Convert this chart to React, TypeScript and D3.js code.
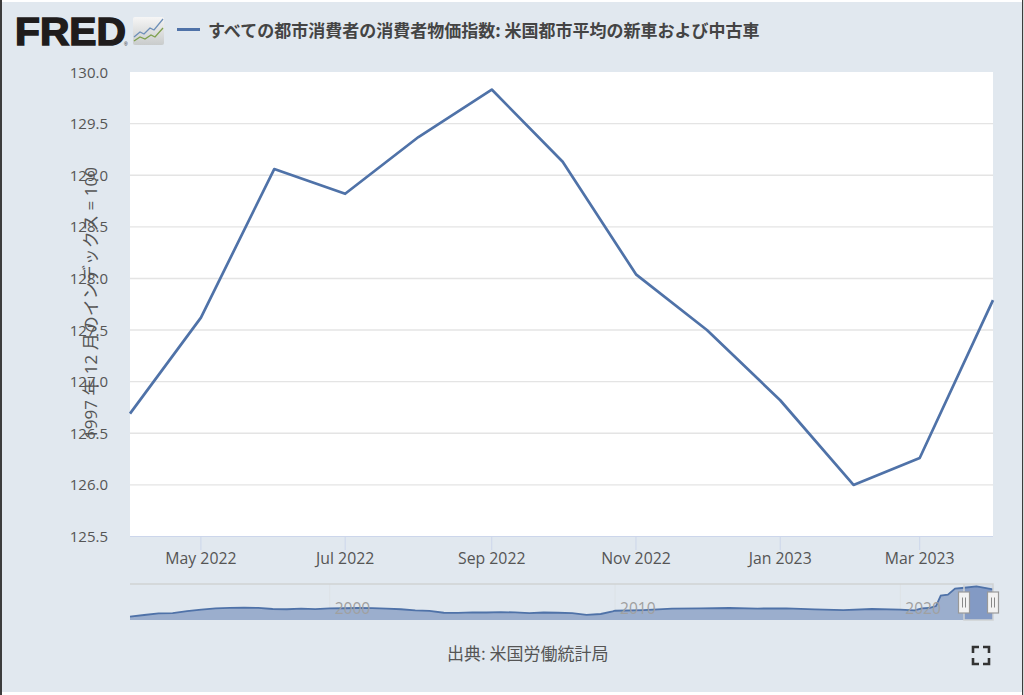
import * as d3 from "d3";

// main series, monthly
const months = ["2022-04", "2022-05", "2022-06", "2022-07", "2022-08", "2022-09", "2022-10", "2022-11", "2022-12", "2023-01", "2023-02", "2023-03", "2023-04"];
const values = [126.69, 127.62, 129.06, 128.82, 129.37, 129.83, 129.13, 128.04, 127.5, 126.82, 126.0, 126.26, 127.79];

const yTicks = [125.5, 126, 126.5, 127, 127.5, 128, 128.5, 129, 129.5, 130];
const xTicks = ["2022-05", "2022-07", "2022-09", "2022-11", "2023-01", "2023-03"];

// navigator series
const navYears = [1993, 1993.5, 1994, 1994.5, 1995, 1995.5, 1996, 1996.5, 1997, 1997.5, 1998, 1998.5, 1999, 1999.5, 2000, 2000.5, 2001, 2001.5, 2002, 2002.5, 2003, 2003.5, 2004, 2004.5, 2005, 2005.5, 2006, 2006.5, 2007, 2007.5, 2008, 2008.5, 2009, 2009.5, 2009.9, 2010, 2011, 2012, 2013, 2014, 2015, 2016, 2017, 2018, 2019, 2020, 2020.5, 2020.75, 2021, 2021.25, 2021.4, 2021.7, 2021.95, 2022.2, 2022.7, 2023.25];
const navValues = [91, 93.2, 95.4, 95.6, 98.3, 100.2, 101.8, 102.3, 102.6, 102.3, 100.9, 100.6, 101.3, 100.8, 101.8, 101.9, 102.2, 102.1, 101.3, 100.6, 99.2, 98.4, 96.1, 95.9, 96.6, 96.4, 97, 96.5, 95.7, 96.4, 96.1, 95.6, 93.5, 94.5, 97.9, 98.7, 99.6, 101.3, 101.8, 102.2, 101.5, 101.8, 100.5, 99.6, 100.9, 100, 99.2, 101.8, 102.2, 104.7, 118, 119.3, 127, 127.9, 130, 126.2];
const navTicks = [2000, 2010, 2020];

const title = "すべての都市消費者の消費者物価指数: 米国都市平均の新車および中古車";
const yTitle = "1997 年 12 月のインデックス = 100";
const source = "出典: 米国労働統計局";

const width = 1024;
const height = 695;
const plot = { left: 130, right: 993, top: 72, bottom: 536.5 };
const nav = { top: 584, bottom: 620, from: 964 };

const bg = "#e1e8ef";
const lineColor = "#4f72a8";
const textColor = "#555";
const latin = "'Open Sans', 'Noto Sans CJK JP', sans-serif";
const cjk = "'Noto Sans CJK JP', sans-serif";

const parseMonth = d3.timeParse("%Y-%m");
const toDate = (m: string) => parseMonth(m) as Date;
const yearToDate = (y: number) => {
  const whole = Math.floor(y);
  return new Date(whole, Math.round((y - whole) * 12), 1);
};

const x = d3.scaleTime().domain([toDate(months[0]), toDate(months[months.length - 1])]).range([plot.left, plot.right]);
const y = d3.scaleLinear().domain([125.5, 130]).range([plot.bottom, plot.top]);
const navX = d3.scaleTime().domain([new Date(1993, 0, 1), new Date(2023, 3, 1)]).range([plot.left, plot.right]);
const navY = d3.scaleLinear().domain([86.8, 129.8]).range([nav.bottom, 586.5]);

const line = d3.line<number>().x((_, i) => x(toDate(months[i]))).y((d) => y(d));
const navLine = d3.line<number>().x((_, i) => navX(yearToDate(navYears[i]))).y((d) => navY(d));
const navArea = d3.area<number>().x((_, i) => navX(yearToDate(navYears[i]))).y0(nav.bottom).y1((d) => navY(d));
const fmt = d3.timeFormat("%b %Y");

const Handle = ({ cx }: { cx: number }) => (
  <g transform={`translate(${cx},591.5)`}>
    <rect x={-5.5} y={0.5} width={11} height={21} fill="#f2f2f2" stroke="#999" strokeWidth={1.2} />
    <line x1={-1.5} x2={-1.5} y1={6} y2={16} stroke="#888" />
    <line x1={1.5} x2={1.5} y1={6} y2={16} stroke="#888" />
  </g>
);

const App = () => {
  return (
    <svg width={width} height={height} style={{ position: "absolute", left: 0, top: 0, display: "block" }}>
      <defs>
        <linearGradient id="logoBg" x1="0" x2="0" y1="0" y2="1">
          <stop offset="0%" stopColor="#f6f6f6" />
          <stop offset="100%" stopColor="#c9cccc" />
        </linearGradient>
        <clipPath id="navSel">
          <rect x={nav.from} y={nav.top} width={plot.right - nav.from} height={nav.bottom - nav.top} />
        </clipPath>
      </defs>

      {/* page frame */}
      <rect width={width} height={height} fill="#fff" />
      <rect x={2} y={2} width={1020} height={690} fill={bg} />
      <rect x={0} y={0} width={2} height={height} fill="#3c3c3c" />
      <rect x={1022} y={0} width={1.2} height={height} fill="#3c3c3c" />

      {/* logo */}
      <text x={15} y={45} fontFamily="'Liberation Sans', sans-serif" fontWeight={700} fontSize={39} textLength={111} lengthAdjust="spacingAndGlyphs" fill="#1f1c1c" stroke="#1f1c1c" strokeWidth={1.5}>FRED</text>
      <text x={124} y={46} fontFamily="'Liberation Sans', sans-serif" fontSize={5} fill="#1f1c1c">®</text>
      <rect x={133} y={17} width={31} height={28} rx={2} fill="url(#logoBg)" />
      <path d="M134 37L140 32L144 34L150 28L154 30L163 19" fill="none" stroke="#6d8fb8" strokeWidth={1.3} />
      <path d="M134 41L140 37L145 39L151 35L155 37L163 28" fill="none" stroke="#7ea04d" strokeWidth={1.3} />

      {/* legend */}
      <line x1={177} x2={200} y1={29.5} y2={29.5} stroke={lineColor} strokeWidth={3} />
      <text x={208} y={37} fontFamily={cjk} fontWeight={700} fontSize={17} fill="#444">{title}</text>

      {/* plot */}
      <rect x={plot.left} y={plot.top} width={plot.right - plot.left} height={plot.bottom - plot.top} fill="#fff" />
      {yTicks.map((t) => (
        <g key={t}>
          {t > 125.5 && t < 130 && <line x1={plot.left} x2={plot.right} y1={y(t)} y2={y(t)} stroke="#e4e4e4" strokeWidth={1.4} />}
          <text x={108} y={y(t) + 5.5} textAnchor="end" fontFamily={latin} fontSize={15} fill={textColor}>{t.toFixed(1)}</text>
        </g>
      ))}
      <line x1={plot.left} x2={plot.right} y1={plot.bottom} y2={plot.bottom} stroke="#ccd6eb" />
      {xTicks.map((t) => (
        <g key={t} transform={`translate(${x(toDate(t))},0)`}>
          <line y1={plot.bottom} y2={550} stroke="#ccd6eb" />
          <text y={564} textAnchor="middle" fontFamily={latin} fontSize={15.8} fill={textColor}>{fmt(toDate(t))}</text>
        </g>
      ))}
      <path d={line(values) ?? ""} fill="none" stroke={lineColor} strokeWidth={2.7} strokeLinejoin="round" />
      <text transform="translate(97,303) rotate(-90)" textAnchor="middle" fontFamily={latin} fontSize={17} fill={textColor}>{yTitle}</text>

      {/* navigator */}
      {navTicks.map((t) => (
        <line key={t} x1={navX(new Date(t, 0, 1))} x2={navX(new Date(t, 0, 1))} y1={nav.top} y2={610} stroke="#dde2e6" />
      ))}
      <path d={navArea(navValues) ?? ""} fill="#7f97bf" fillOpacity={0.72} />
      <path d={navArea(navValues) ?? ""} fill="#6f8cc0" fillOpacity={0.45} clipPath="url(#navSel)" />
      <rect x={nav.from} y={nav.top} width={plot.right - nav.from} height={nav.bottom - nav.top} fill="#667fb0" fillOpacity={0.1} />
      <path d={navLine(navValues) ?? ""} fill="none" stroke={lineColor} strokeWidth={1.8} />
      {navTicks.map((t) => (
        <text key={t} x={navX(new Date(t, 0, 1)) + 5} y={614} fontFamily={latin} fontSize={15.5} fill="#a0a0a0">{t}</text>
      ))}
      <path d={`M${plot.left} ${nav.top}H${nav.from}V${nav.bottom}H${plot.right}V${nav.top}H${nav.from}`} fill="none" stroke="#cfd2d4" strokeWidth={1.5} />
      <Handle cx={nav.from} />
      <Handle cx={plot.right} />

      {/* source */}
      <text x={447} y={660} fontFamily={cjk} fontSize={17} fill={textColor}>{source}</text>

      {/* fullscreen icon */}
      <path d="M973 653V647H979M983 647H989V653M989 658V664H983M979 664H973V658" fill="none" stroke="#333" strokeWidth={2.6} />
    </svg>
  );
};

export default App;
